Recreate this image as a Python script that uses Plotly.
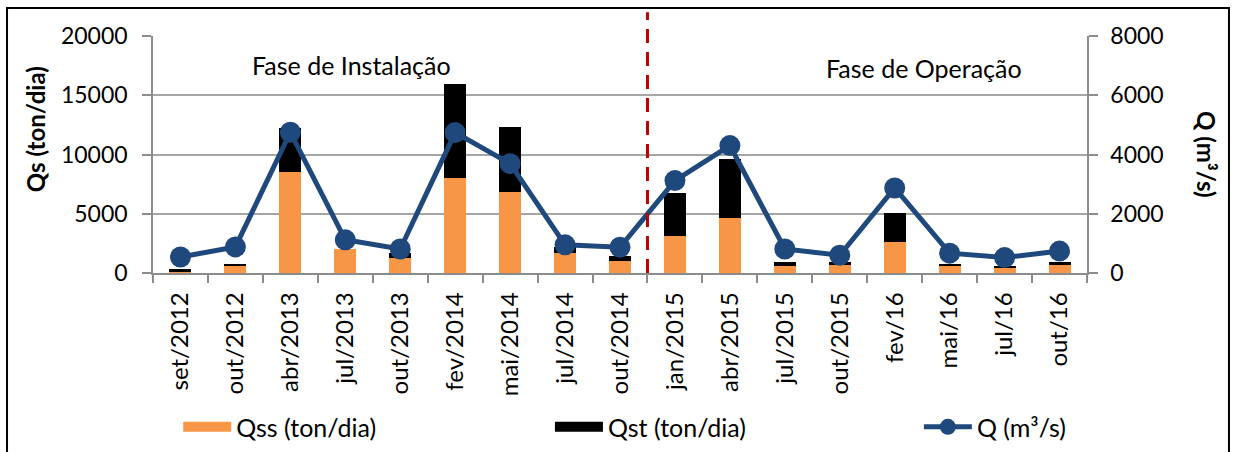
import plotly.graph_objects as go

categories = ["set/2012", "out/2012", "abr/2013", "jul/2013", "out/2013", "fev/2014",
              "mai/2014", "jul/2014", "out/2014", "jan/2015", "abr/2015", "jul/2015",
              "out/2015", "fev/16", "mai/16", "jul/16", "out/16"]
qss = [150, 650, 8500, 2000, 1250, 8000, 6800, 1700, 1000, 3150, 4600, 550, 700, 2600, 600, 500, 700]
qst = [150, 110, 3700, 0, 450, 7950, 5550, 500, 400, 3600, 5050, 350, 200, 2500, 200, 70, 250]
q = [540, 880, 4750, 1120, 810, 4740, 3690, 950, 870, 3120, 4300, 810, 600, 2870, 670, 520, 740]

left_ticks = [0, 5000, 10000, 15000, 20000]
right_ticks = [0, 2000, 4000, 6000, 8000]

FONT = "Lato"
ORANGE = "#F79646"
BLUE = "#1F497D"
GRID = "#A6A6A6"
AXIS = "#8C8C8C"

fig = go.Figure()
fig.add_trace(go.Bar(x=categories, y=qss, name="Qss (ton/dia)", legendgroup="qss", showlegend=False,
                     marker=dict(color=ORANGE, line=dict(width=0))))
fig.add_trace(go.Bar(x=categories, y=qst, name="Qst (ton/dia)", legendgroup="qst", showlegend=False,
                     marker=dict(color="#000000", line=dict(width=0))))
fig.add_trace(go.Scatter(x=categories, y=q, name="Q (m³/s)", yaxis="y2", mode="lines+markers",
                         line=dict(color=BLUE, width=5), legend="legend3",
                         marker=dict(color=BLUE, size=21)))
# legend swatches for the stacked bars
fig.add_trace(go.Scatter(x=[categories[0]], y=[None], mode="lines", name="Qss (ton/dia)", legendgroup="qss",
                         line=dict(color=ORANGE, width=18), legend="legend"))
fig.add_trace(go.Scatter(x=[categories[0]], y=[None], mode="lines", name="Qst (ton/dia)", legendgroup="qst",
                         line=dict(color="#000000", width=18), legend="legend2"))

leg = dict(orientation="h", y=-0.65, yanchor="middle", xanchor="left",
           font=dict(family=FONT, size=25), itemwidth=48, bgcolor="rgba(0,0,0,0)")

fig.update_layout(
    width=1234, height=452,
    margin=dict(l=153, r=147, t=36, b=179, autoexpand=False),
    paper_bgcolor="white", plot_bgcolor="white",
    font=dict(family=FONT, size=22, color="black"),
    barmode="stack", bargap=0.6,
    showlegend=True,
    legend=dict(leg, x=0.027),
    legend2=dict(leg, x=0.425),
    legend3=dict(leg, x=0.82),
    xaxis=dict(type="category", range=[-0.5, len(categories) - 0.5],
               showline=True, linecolor=AXIS, linewidth=1.5, automargin=False,
               ticks="outside", tickson="boundaries", ticklen=8, tickcolor=AXIS, tickwidth=1.5,
               tickangle=-90, tickfont=dict(family=FONT, size=24), showgrid=False,
               ticklabelstandoff=8),
    yaxis=dict(range=[0, 20000], tickvals=left_ticks, ticktext=[str(v) for v in left_ticks],
               showline=True, linecolor=AXIS, linewidth=1.5, automargin=False,
               ticks="outside", ticklen=9, tickcolor=AXIS, tickwidth=1.5,
               showgrid=True, gridcolor=GRID, gridwidth=1.5, zeroline=False,
               tickfont=dict(family=FONT, size=23), ticklabelstandoff=10),
    yaxis2=dict(range=[0, 8000], tickvals=right_ticks, ticktext=[str(v) for v in right_ticks],
                overlaying="y", side="right", automargin=False,
                showline=True, linecolor=AXIS, linewidth=1.5,
                ticks="outside", ticklen=9, tickcolor=AXIS, tickwidth=1.5,
                showgrid=False, zeroline=False,
                tickfont=dict(family=FONT, size=23), ticklabelstandoff=8),
)

# phase separator
fig.add_shape(type="line", xref="x", yref="paper", x0=8.5, x1=8.5, y0=0, y1=1.10,
              line=dict(color="#C00000", width=3, dash="14px,9px"))
# outer border
fig.add_shape(type="rect", xref="paper", yref="paper", x0=-0.1563, x1=1.152, y0=-0.80, y1=1.118,
              line=dict(color="black", width=2), fillcolor="rgba(0,0,0,0)", layer="above")

fig.add_annotation(text="Fase de Instalação", xref="paper", yref="paper", x=0.213, y=0.878,
                   xanchor="center", yanchor="middle",
                   showarrow=False, font=dict(family=FONT, size=25))
fig.add_annotation(text="Fase de Operação", xref="paper", yref="paper", x=0.826, y=0.865,
                   xanchor="center", yanchor="middle",
                   showarrow=False, font=dict(family=FONT, size=25))
fig.add_annotation(text="<b>Qs (ton/dia)</b>", xref="paper", yref="paper", x=-0.125, y=0.608,
                   xanchor="center", yanchor="middle",
                   textangle=-90, showarrow=False, font=dict(family=FONT, size=24))
fig.add_annotation(text="<b>Q (m³/s)</b>", xref="paper", yref="paper", x=1.128, y=0.50,
                   xanchor="center", yanchor="middle",
                   textangle=90, showarrow=False, font=dict(family=FONT, size=24))

fig.write_html("out.html", config={"displayModeBar": False},
               post_script="document.body.style.margin='0';")
